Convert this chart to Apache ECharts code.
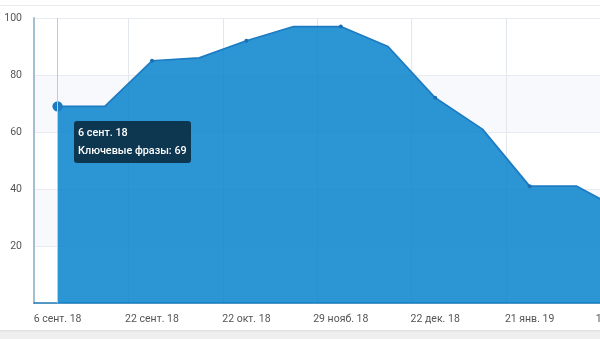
<!DOCTYPE html>
<html>
<head>
<meta charset="utf-8">
<script src="https://cdn.jsdelivr.net/npm/echarts@6/dist/echarts.min.js"></script>
<style>
html,body{margin:0;padding:0;background:#fff;}
#chart{width:600px;height:339px;}
</style>
</head>
<body>
<div id="chart"></div>
<script>
var categories = ['6 сент. 18','14 сент. 18','22 сент. 18','7 окт. 18','22 окт. 18','9 нояб. 18','29 нояб. 18','10 дек. 18','22 дек. 18','6 янв. 19','21 янв. 19','5 февр. 19','11 февр. 19'];
var values = [69, 69, 85, 86, 92, 97, 97, 90, 72, 61, 41, 41, 32];
var seriesName = 'Ключевые фразы';
var yTicks = [0, 20, 40, 60, 80, 100];

var chart = echarts.init(document.getElementById('chart'), null, {renderer: 'canvas'});
var band = 47.2;
var gridWidth = band * categories.length;
chart.setOption({
  animation: false,
  backgroundColor: '#ffffff',
  textStyle: {fontFamily: 'Roboto, sans-serif'},
  graphic: [
    {type: 'line', shape: {x1: 0, y1: 5.5, x2: 600, y2: 5.5}, style: {stroke: '#ebebeb', lineWidth: 1}, z: -1},
    {type: 'rect', shape: {x: 0, y: 331, width: 600, height: 8}, style: {fill: '#efefef'}, z: -1},
    {type: 'rect', shape: {x: 0, y: 330, width: 600, height: 1.5}, style: {fill: '#e2e2e2'}, z: -1}
  ],
  grid: {left: 34, top: 18, width: gridWidth, height: 285, containLabel: false, outerBoundsMode: 'none'},
  tooltip: {
    trigger: 'axis',
    alwaysShowContent: true,
    position: [74, 121],
    backgroundColor: 'rgba(12,50,75,0.96)',
    borderColor: 'rgba(12,50,75,0.96)',
    borderWidth: 0,
    borderRadius: 3,
    padding: [3, 4],
    extraCssText: 'box-shadow:none;line-height:18px;',
    textStyle: {color: '#fff', fontSize: 10.8, fontWeight: 500},
    axisPointer: {type: 'line', lineStyle: {color: '#c8c8c8', width: 1, type: 'solid'}},
    formatter: function (p) {
      return '<div style="line-height:18px">' + p[0].name + '<br>' + seriesName + ': ' + p[0].value + '</div>';
    }
  },
  xAxis: {
    type: 'category',
    data: categories,
    boundaryGap: true,
    axisLine: {lineStyle: {color: '#1f78b4', width: 1.5}},
    axisTick: {show: false},
    axisLabel: {interval: 1, color: '#555', fontSize: 10.5, margin: 11, hideOverlap: false},
    splitLine: {show: true, interval: 1, lineStyle: {color: '#e3e8ef', width: 1}}
  },
  yAxis: {
    type: 'value',
    min: yTicks[0],
    max: yTicks[yTicks.length - 1],
    interval: 20,
    axisLine: {show: true, lineStyle: {color: '#a3c0d2', width: 2}},
    axisTick: {show: false},
    axisLabel: {color: '#555', fontSize: 10.5, margin: 12, formatter: function (v) { return v === 0 ? '' : v; }},
    splitLine: {lineStyle: {color: '#e8ecf2', width: 1}},
    splitArea: {show: true, areaStyle: {color: ['#ffffff', '#f8f9fc']}}
  },
  series: [{
    name: seriesName,
    type: 'line',
    data: values,
    symbol: 'circle',
    symbolSize: function (v, p) { return p.dataIndex % 2 === 0 ? 4 : 0; },
    showAllSymbol: true,
    itemStyle: {color: '#1a70b2'},
    lineStyle: {color: '#1a70b2', width: 1.7},
    areaStyle: {color: '#0783cb', opacity: 0.85},
    emphasis: {scale: 2.6, focus: 'none', lineStyle: {width: 1.7}, areaStyle: {color: '#0783cb', opacity: 0.85}},
    z: 2
  }]
});
chart.dispatchAction({type: 'showTip', seriesIndex: 0, dataIndex: 0});
</script>
</body>
</html>
